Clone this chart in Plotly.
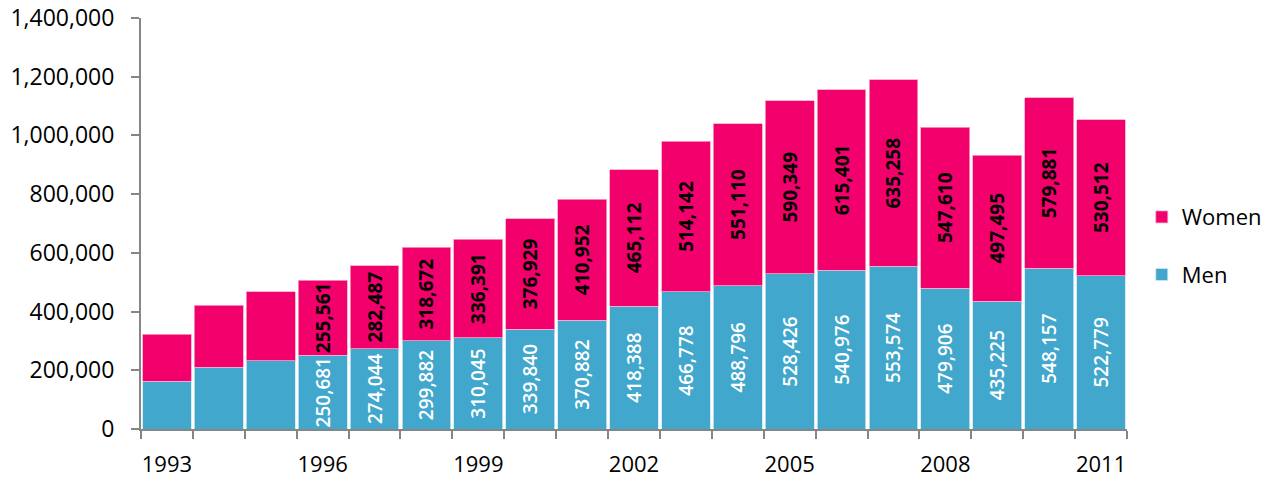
import plotly.graph_objects as go

# Annual counts by sex, 1993-2011
years = list(range(1993, 2012))
men = [163500, 210500, 232700, 250681, 274044, 299882, 310045, 339840, 370882,
       418388, 466778, 488796, 528426, 540976, 553574, 479906, 435225, 548157, 522779]
women = [159000, 211000, 234000, 255561, 282487, 318672, 336391, 376929, 410952,
         465112, 514142, 551110, 590349, 615401, 635258, 547610, 497495, 579881, 530512]
# the first three years carry no value label
labelled_from = 1996

x_tick_years = [1993, 1996, 1999, 2002, 2005, 2008, 2011]
y_ticks = [0, 200000, 400000, 600000, 800000, 1000000, 1200000, 1400000]

BLUE = "#41A7CC"
PINK = "#F2006C"
FONT = "Open Sans"


def labels(values):
    return [f"{v:,}" if y >= labelled_from else "" for y, v in zip(years, values)]


fig = go.Figure()
fig.add_trace(go.Bar(
    x=years, y=men, name="Men", legendgroup="men", legendrank=2,
    marker=dict(color=BLUE, line=dict(color="#cfe6f0", width=0.8)),
    text=labels(men), textposition="inside", textangle=-90,
    insidetextanchor="middle", constraintext="none",
    textfont=dict(family=FONT, size=19, color="white", weight=600),
))
fig.add_trace(go.Bar(
    x=years, y=women, name="Women", legendgroup="women", legendrank=1,
    marker=dict(color=PINK, line=dict(color="#f7a3c6", width=0.8)),
    text=labels(women), textposition="inside", textangle=-90,
    insidetextanchor="middle", constraintext="none",
    textfont=dict(family=FONT, size=19, color="black", weight="bold"),
))

fig.update_layout(
    width=1275, height=477,
    margin=dict(l=141, r=148, t=18, b=48, autoexpand=False),
    barmode="stack", bargap=0.06,
    plot_bgcolor="white", paper_bgcolor="white",
    font=dict(family=FONT, size=23, color="black"),
    uniformtext=dict(minsize=19, mode="show"),
    showlegend=True,
    legend=dict(
        x=1.015, xanchor="left", y=0.445, yanchor="middle",
        traceorder="grouped", tracegroupgap=26,
        font=dict(family=FONT, size=22, color="black"),
        bgcolor="rgba(0,0,0,0)",
    ),
)

fig.update_xaxes(
    range=[1992.5, 2011.5], tickmode="array", tickvals=x_tick_years,
    ticks="outside", ticklen=15, tickcolor="rgba(0,0,0,0)",
    tickfont=dict(size=22),
    showline=True, linecolor="#868686", linewidth=2,
    showgrid=False, zeroline=False, automargin=False,
    minor=dict(tick0=1992.5, dtick=1, ticks="outside", ticklen=8,
               tickcolor="#868686", tickwidth=2, showgrid=False),
)
fig.update_yaxes(
    range=[0, 1400000], tickmode="array", tickvals=y_ticks,
    tickformat=",", ticks="outside", ticklen=8, tickcolor="#868686", tickwidth=2,
    ticklabelstandoff=12,
    showline=True, linecolor="#868686", linewidth=2,
    showgrid=False, zeroline=False, automargin=False,
)

fig.write_html("out.html")
